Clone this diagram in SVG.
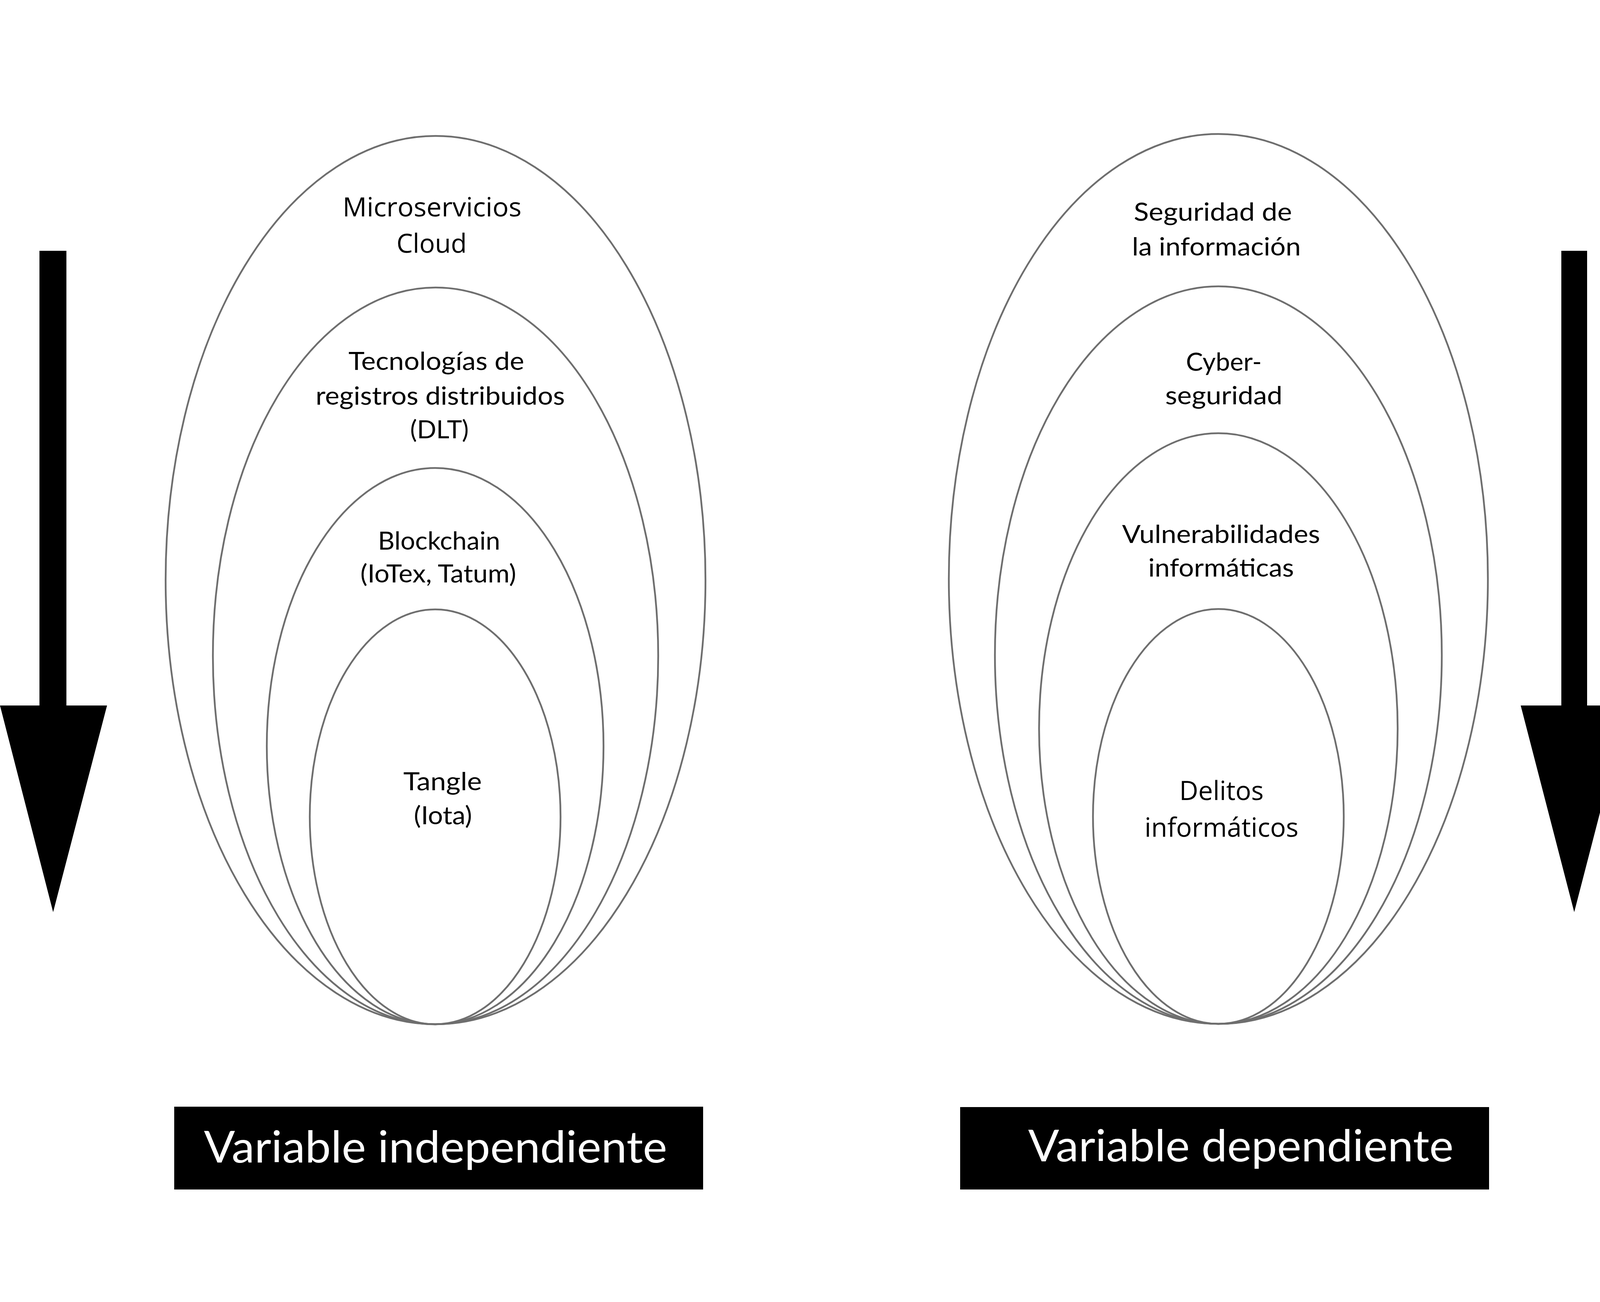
<svg xmlns="http://www.w3.org/2000/svg" width="4167" height="3333" viewBox="0 0 4167 3333">
<style>
.ring{fill:none;stroke:#6e6e6e;stroke-width:4.5}
.t{font-family:Lato,"Open Sans","Liberation Sans",sans-serif;font-size:64px;fill:#000;text-anchor:middle}
.c{font-family:"Open Sans","Noto Sans","Liberation Sans",sans-serif;font-size:67px;fill:#000;text-anchor:middle}
.box{fill:#000}
.bt{font-family:Lato,"Open Sans","Liberation Sans",sans-serif;font-size:113px;fill:#fff}
.arrow{fill:#000}
</style>
<rect width="4167" height="3333" fill="#fff"/>
<g id="connectors">
  <g id="arrow-left">
    <rect class="arrow" x="101" y="642" width="69" height="1170"/>
    <polygon class="arrow" points="0,1806 274,1806 136,2335"/>
  </g>
  <g id="arrow-right">
    <rect class="arrow" x="3997" y="642" width="66" height="1170"/>
    <polygon class="arrow" points="3893,1806 4167,1806 4030,2335"/>
  </g>
</g>
<g id="left-group">
  <g id="microservicios">
    <ellipse class="ring" cx="1115" cy="1485" rx="691" ry="1137"/>
    <text class="c" x="1106" y="554" textLength="458" lengthAdjust="spacingAndGlyphs">Microservicios</text>
    <text class="c" x="1105" y="647" textLength="180" lengthAdjust="spacingAndGlyphs">Cloud</text>
  </g>
  <g id="dlt">
    <ellipse class="ring" cx="1115" cy="1679" rx="570" ry="943"/>
    <text class="t" x="1117" y="947" textLength="450" lengthAdjust="spacingAndGlyphs">Tecnologías de</text>
    <text class="t" x="1127" y="1036" textLength="638" lengthAdjust="spacingAndGlyphs">registros distribuidos</text>
    <text class="t" x="1125" y="1122" textLength="150" lengthAdjust="spacingAndGlyphs">(DLT)</text>
  </g>
  <g id="blockchain">
    <ellipse class="ring" cx="1114" cy="1910" rx="431" ry="712"/>
    <text class="t" x="1124" y="1407" textLength="313" lengthAdjust="spacingAndGlyphs">Blockchain</text>
    <text class="t" x="1122" y="1491" textLength="399" lengthAdjust="spacingAndGlyphs">(IoTex, Tatum)</text>
  </g>
  <g id="tangle">
    <ellipse class="ring" cx="1114" cy="2091" rx="321" ry="531"/>
    <text class="t" x="1133" y="2023" textLength="201" lengthAdjust="spacingAndGlyphs">Tangle</text>
    <text class="t" x="1134" y="2110" textLength="149" lengthAdjust="spacingAndGlyphs">(Iota)</text>
  </g>
</g>
<g id="right-group">
  <g id="seguridad-informacion">
    <ellipse class="ring" cx="3119" cy="1482" rx="690" ry="1139"/>
    <text class="t" x="3105" y="565" textLength="405" lengthAdjust="spacingAndGlyphs">Seguridad de</text>
    <text class="t" x="3114" y="654" textLength="432" lengthAdjust="spacingAndGlyphs">la información</text>
  </g>
  <g id="cyberseguridad">
    <ellipse class="ring" cx="3119" cy="1677" rx="572" ry="944"/>
    <text class="t" x="3133" y="949" textLength="194" lengthAdjust="spacingAndGlyphs">Cyber-</text>
    <text class="t" x="3133" y="1035" textLength="300" lengthAdjust="spacingAndGlyphs">seguridad</text>
  </g>
  <g id="vulnerabilidades">
    <ellipse class="ring" cx="3119" cy="1865" rx="459" ry="756"/>
    <text class="t" x="3126" y="1390" textLength="507" lengthAdjust="spacingAndGlyphs">Vulnerabilidades</text>
    <text class="t" x="3126" y="1476" textLength="373" lengthAdjust="spacingAndGlyphs">informáticas</text>
  </g>
  <g id="delitos">
    <ellipse class="ring" cx="3119" cy="2090" rx="321" ry="531"/>
    <text class="c" x="3127" y="2048" textLength="216" lengthAdjust="spacingAndGlyphs">Delitos</text>
    <text class="c" x="3127" y="2142" textLength="394" lengthAdjust="spacingAndGlyphs">informáticos</text>
  </g>
</g>
<g id="label-independiente">
  <rect class="box" x="446" y="2833" width="1354" height="212"/>
  <text class="bt" x="522" y="2976" textLength="1186" lengthAdjust="spacingAndGlyphs">Variable independiente</text>
</g>
<g id="label-dependiente">
  <rect class="box" x="2458" y="2834" width="1354" height="211"/>
  <text class="bt" x="2632" y="2973" textLength="1089" lengthAdjust="spacingAndGlyphs">Variable dependiente</text>
</g>
</svg>
